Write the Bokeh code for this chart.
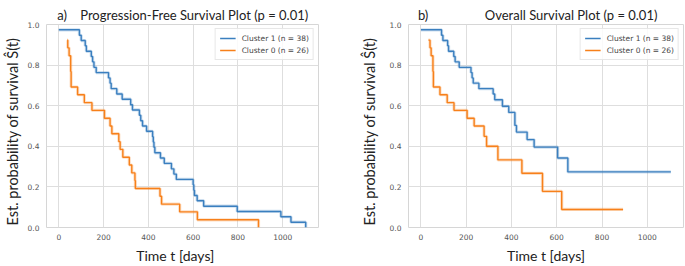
from bokeh.plotting import figure
from bokeh.layouts import row
from bokeh.models import Range1d, FixedTicker, Legend, LegendItem, Title
from bokeh.embed import file_html
from bokeh.resources import INLINE

# ---------------- data ----------------
# Progression-free survival, Cluster 1 (n = 38)
pfs_c1_t = [0, 92, 100, 118, 123, 145, 151, 157, 167, 222, 229, 234, 259, 283, 321, 329,
            360, 366, 374, 392, 419, 422, 425, 429, 454, 471, 503, 514, 525, 600, 603,
            606, 618, 647, 797, 992, 1037, 1103]
pfs_c1_s = [0.974, 0.947, 0.921, 0.895, 0.868, 0.842, 0.816, 0.789, 0.763, 0.737, 0.711,
            0.684, 0.658, 0.632, 0.605, 0.579, 0.553, 0.526, 0.500, 0.474, 0.447, 0.421,
            0.395, 0.368, 0.342, 0.316, 0.289, 0.263, 0.237, 0.211, 0.184, 0.158, 0.132,
            0.105, 0.079, 0.053, 0.026, 0.0]
# Progression-free survival, Cluster 0 (n = 26)
pfs_c0_t = [37, 40, 46, 53, 55, 84, 114, 148, 204, 229, 237, 268, 274, 286, 315, 326,
            340, 342, 452, 459, 540, 619, 892]
pfs_c0_s = [0.923, 0.885, 0.846, 0.769, 0.692, 0.654, 0.615, 0.577, 0.538, 0.500, 0.462,
            0.423, 0.385, 0.346, 0.308, 0.269, 0.231, 0.192, 0.154, 0.115, 0.077, 0.038, 0.0]
# Overall survival, Cluster 1 (n = 38)
os_c1_t = [0, 91, 97, 118, 122, 145, 151, 169, 221, 226, 231, 256, 319, 326, 360, 388,
           415, 422, 469, 500, 604, 649, 1104]
os_c1_s = [0.974, 0.947, 0.921, 0.895, 0.868, 0.842, 0.816, 0.789, 0.763, 0.737, 0.711,
           0.684, 0.658, 0.629, 0.597, 0.567, 0.503, 0.470, 0.433, 0.396, 0.342, 0.274, 0.274]
# Overall survival, Cluster 0 (n = 26)
os_c0_t = [33, 40, 45, 53, 55, 84, 116, 146, 204, 235, 279, 290, 340, 446, 537, 622, 893]
os_c0_s = [0.923, 0.885, 0.846, 0.769, 0.692, 0.654, 0.615, 0.577, 0.538, 0.500, 0.449,
           0.400, 0.333, 0.267, 0.178, 0.089, 0.089]

series_names = ["Cluster 1 (n = 38)", "Cluster 0 (n = 26)"]
series_colors = ["#3a7fbf", "#f7801a"]

x_ticks = [0, 200, 400, 600, 800, 1000]
x_tick_labels = ["0", "200", "400", "600", "800", "1000"]
y_ticks = [0.0, 0.2, 0.4, 0.6, 0.8, 1.0]
y_tick_labels = ["0.0", "0.2", "0.4", "0.6", "0.8", "1.0"]

panel_letters = ["a)", "b)"]
panel_titles = ["Progression-Free Survival Plot (p = 0.01)", "Overall Survival Plot (p = 0.01)"]
x_label = "Time t [days]"
y_label = "Est. probability of survival Ŝ(t)"

LABEL_FONT = "Lato"
TICK_FONT = "DejaVu Sans"
NB = "\u00a0"


def make_panel(width, border_left, border_right, curves, title_text, title_offset,
               xlab_text, ylab_standoff):
    p = figure(width=width, height=266, output_backend="svg", toolbar_location=None,
               x_range=Range1d(-55, 1160), y_range=Range1d(0, 1),
               min_border_left=border_left, min_border_right=border_right,
               min_border_top=24, min_border_bottom=37)
    p.background_fill_color = "white"
    p.border_fill_color = "white"
    p.outline_line_color = "#d6d6d6"
    p.outline_line_width = 1

    for ax in (p.xaxis[0], p.yaxis[0]):
        ax.axis_line_color = None
        ax.major_tick_line_color = None
        ax.minor_tick_line_color = None
        ax.major_tick_out = 0
        ax.major_tick_in = 0
        ax.minor_tick_out = 0
        ax.minor_tick_in = 0
        ax.major_label_text_font = TICK_FONT
        ax.major_label_text_font_size = "7.5px"
        ax.major_label_text_color = "#555555"
        ax.axis_label_text_font = LABEL_FONT
        ax.axis_label_text_font_style = "normal"
        ax.axis_label_text_color = "#222222"
    p.xaxis[0].ticker = FixedTicker(ticks=x_ticks)
    p.xaxis[0].major_label_overrides = dict(zip(x_ticks, x_tick_labels))
    p.xaxis[0].major_label_standoff = 6
    p.xaxis[0].axis_label = xlab_text
    p.xaxis[0].axis_label_text_font_size = "14px"
    p.xaxis[0].axis_label_standoff = 4
    p.yaxis[0].ticker = FixedTicker(ticks=y_ticks)
    p.yaxis[0].major_label_overrides = dict(zip(y_ticks, y_tick_labels))
    p.yaxis[0].major_label_standoff = 7
    p.yaxis[0].axis_label = y_label + NB * 3
    p.yaxis[0].axis_label_text_font_size = "14.5px"
    p.yaxis[0].axis_label_standoff = ylab_standoff

    p.xgrid[0].grid_line_color = "#dedede"
    p.ygrid[0].grid_line_color = "#dedede"
    p.xgrid[0].grid_line_width = 1
    p.ygrid[0].grid_line_width = 1

    items = []
    for (t, s), name, col in zip(curves, series_names, series_colors):
        p.step(t, s, mode="after", line_color=col, line_width=3.2, line_alpha=0.25)
        r = p.step(t, s, mode="after", line_color=col, line_width=1.4)
        items.append(LegendItem(label=name, renderers=[r]))

    leg = Legend(items=items, location="top_right")
    leg.label_text_font = TICK_FONT
    leg.label_text_font_size = "7.5px"
    leg.label_text_color = "#444444"
    leg.glyph_width = 16
    leg.glyph_height = 10
    leg.label_height = 10
    leg.label_standoff = 6
    leg.spacing = 2
    leg.padding = 4
    leg.margin = 4
    leg.border_line_color = "#d0d0d0"
    leg.background_fill_alpha = 0.85
    p.add_layout(leg)

    p.title = Title(text=title_text, align="left", offset=title_offset,
                    text_font=LABEL_FONT, text_font_style="normal",
                    text_font_size="13px", text_color="#222222", standoff=4)
    return p


title1 = panel_letters[0] + NB * 4 + panel_titles[0]
title2 = panel_letters[1] + NB * 17 + panel_titles[1]

p1 = make_panel(340, 44, 22, [(pfs_c1_t, pfs_c1_s), (pfs_c0_t, pfs_c0_s)],
                title1, 10.7, x_label + NB * 4, 4)
p2 = make_panel(345, 68, 2, [(os_c1_t, os_c1_s), (os_c0_t, os_c0_s)],
                title2, 9.4, x_label, 9)

layout = row(p1, p2)
open("out.html", "w").write(file_html(layout, INLINE))
